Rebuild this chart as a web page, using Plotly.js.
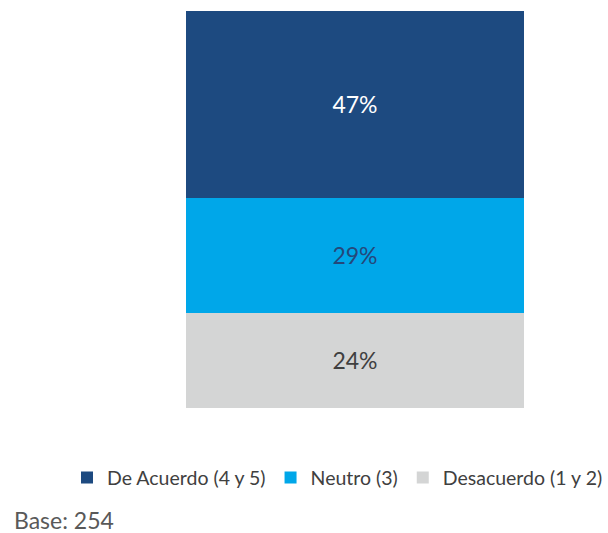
<!DOCTYPE html>
<html>
<head>
<meta charset="utf-8">
<script src="https://cdn.plot.ly/plotly-3.0.1.min.js"></script>
<style>html,body{margin:0;padding:0;background:#fff;}#chart{width:608px;height:533px;}</style>
</head>
<body>
<div id="chart"></div>
<script>
const category = [""];
const seriesNames = ["De Acuerdo (4 y 5)", "Neutro (3)", "Desacuerdo (1 y 2)"];
const deAcuerdo = [47];
const neutro = [29];
const desacuerdo = [24];
const baseText = "Base: 254";

const colors = ["#1d4a80", "#00a7e9", "#d4d5d5"];
const labelColors = ["#ffffff", "#24487a", "#404040"];
const values = [deAcuerdo, neutro, desacuerdo];
const FONT = "Lato, 'Open Sans', sans-serif";

// stack order bottom -> top: Desacuerdo, Neutro, De Acuerdo
const order = [2, 1, 0];
const traces = order.map(i => ({
  type: "bar",
  x: category,
  y: values[i],
  name: seriesNames[i],
  marker: {color: colors[i], line: {width: 0}},
  width: 1,
  text: values[i].map(v => v + "%"),
  textposition: "inside",
  insidetextanchor: "middle",
  textangle: 0,
  textfont: {family: FONT, size: 23, color: labelColors[i]},
  hoverinfo: "skip"
}));

// plot area spans x 186..608; bar (width 1 category) spans 186..524
const plotW = 608 - 186;
const barW = 524 - 186;

const layout = {
  width: 608, height: 533,
  margin: {l: 186, r: 0, t: 11, b: 125},
  barmode: "stack",
  bargap: 0,
  showlegend: true,
  legend: {
    orientation: "h",
    traceorder: "reversed",
    x: -118 / plotW, xanchor: "left",
    y: -0.127, yanchor: "top",
    font: {family: FONT, size: 19.5, color: "#404040"},
    bgcolor: "rgba(0,0,0,0)"
  },
  xaxis: {visible: false, range: [-0.5, -0.5 + plotW / barW], fixedrange: true},
  yaxis: {visible: false, range: [0, 100], fixedrange: true},
  paper_bgcolor: "#ffffff",
  plot_bgcolor: "#ffffff",
  annotations: [{
    text: baseText, xref: "paper", yref: "paper",
    x: -174 / plotW, xanchor: "left", y: -0.283, yanchor: "middle",
    showarrow: false,
    font: {family: FONT, size: 23, color: "#595959"}
  }]
};

Plotly.newPlot("chart", traces, layout, {displayModeBar: false, staticPlot: true});
</script>
</body>
</html>
